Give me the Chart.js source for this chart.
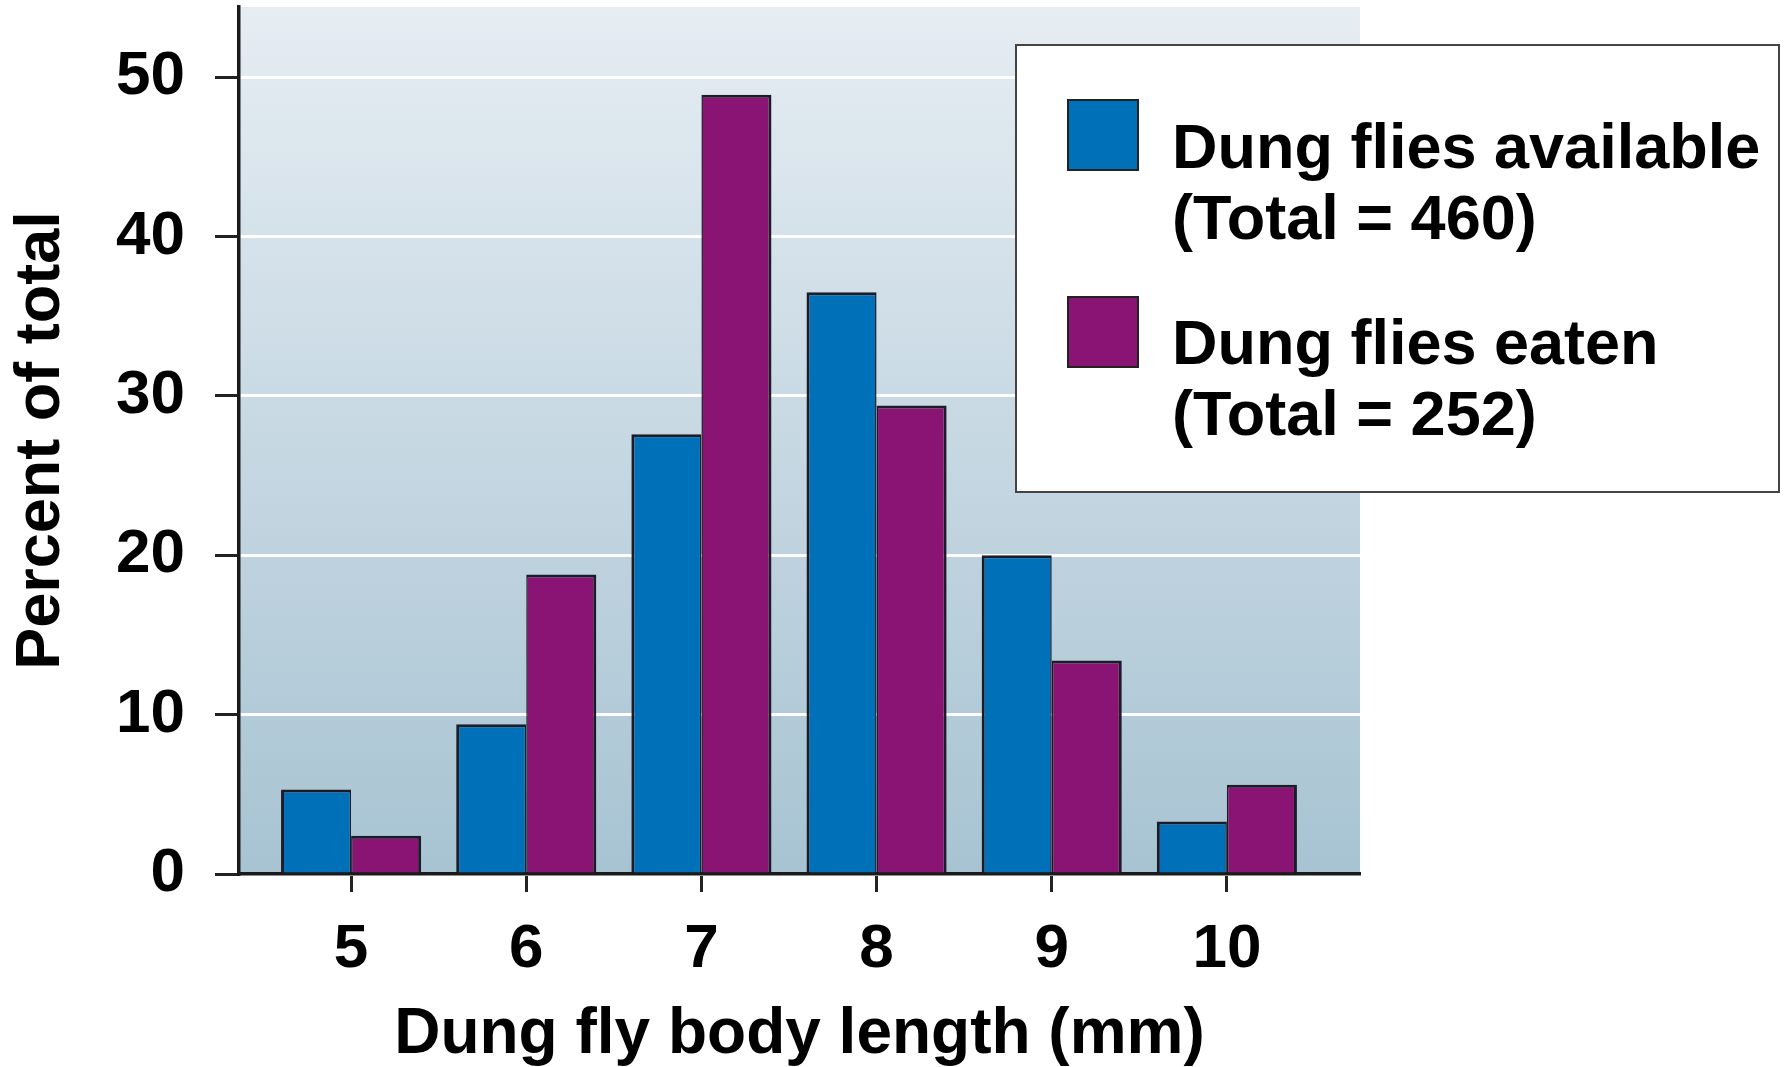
<!DOCTYPE html>
<html>
<head>
<meta charset="utf-8">
<script src="https://cdn.jsdelivr.net/npm/chart.js@4.4.1/dist/chart.umd.min.js"></script>
<style>
  html, body { margin: 0; padding: 0; background: #fff; }
  #wrap { position: relative; width: 1787px; height: 1067px; }
  #chart { position: absolute; left: 0; top: 0; }
  #legend {
    position: absolute; left: 1015px; top: 44px; width: 761px; height: 445px;
    background: #fff; border: 2px solid #444;
    font-family: "Liberation Sans", Arial, sans-serif; font-weight: bold; color: #000;
  }
  .sw { position: absolute; left: 50px; width: 68px; height: 68px; border: 2px solid #222; }
  .lt { position: absolute; left: 155px; font-size: 63px; line-height: 71px; white-space: nowrap; }
</style>
</head>
<body>
<div id="wrap">
  <canvas id="chart" width="1787" height="1067"></canvas>
  <div id="legend"></div>
</div>
<script>
// waarden
const bodyLengths = [5, 6, 7, 8, 9, 10];
const available = [5.3, 9.4, 27.6, 36.5, 20.0, 3.3];
const eaten = [2.4, 18.8, 48.9, 29.4, 13.4, 5.6];

const seriesNames = ['Dung flies available', 'Dung flies eaten'];
const seriesTotals = ['(Total = 460)', '(Total = 252)'];
const seriesColors = ['#0070b8', '#8a1473'];

const yStep = 10;
const yMax = 54.4;
const xMin = 4.36;
const xMax = 10.76;

const font = 'Liberation Sans, Arial, sans-serif';

// achtergrond met verloop in het plotgebied
const bgPlugin = {
    id: 'bg',
    beforeDraw(chart) {
        const a = chart.chartArea;
        const c = chart.ctx;
        const g = c.createLinearGradient(0, a.top, 0, a.bottom);
        g.addColorStop(0, '#e6edf3');
        g.addColorStop(1, '#a7c3d2');
        c.save();
        c.fillStyle = g;
        c.fillRect(a.left, a.top, a.right - a.left, a.bottom - a.top);
        c.restore();
    }
};

const ctx = document.getElementById('chart').getContext('2d');
new Chart(ctx, {
    type: 'bar',
    data: {
        datasets: [{
            label: seriesNames[0],
            data: bodyLengths.map((x, i) => ({ x: x, y: available[i] })),
            backgroundColor: seriesColors[0],
            borderColor: '#1c1c28',
            borderWidth: { left: 3, right: 1.5, top: 3, bottom: 0 }
        }, {
            label: seriesNames[1],
            data: bodyLengths.map((x, i) => ({ x: x, y: eaten[i] })),
            backgroundColor: seriesColors[1],
            borderColor: '#1c1c28',
            borderWidth: { left: 1.5, right: 3, top: 3, bottom: 0 }
        }]
    },
    options: {
        responsive: false,
        animation: false,
        layout: { padding: { left: 0, right: 427, top: 7, bottom: 0 } },
        datasets: {
            bar: { barPercentage: 1.0, categoryPercentage: 0.8 }
        },
        plugins: {
            legend: { display: false },
            tooltip: { enabled: false }
        },
        scales: {
            x: {
                type: 'linear',
                min: xMin,
                max: xMax,
                offset: false,
                afterFit: s => {
                    s.height = 193;
                    s.paddingLeft = 0;
                    s.paddingRight = 0;
                },
                grid: { drawOnChartArea: false, offset: false, tickLength: 18, tickColor: '#222', tickWidth: 3 },
                border: { color: '#1a1a1a', width: 3.5 },
                ticks: {
                    stepSize: 1,
                    includeBounds: false,
                    padding: 21,
                    color: '#000',
                    font: { family: font, size: 62, weight: 'bold' }
                },
                title: {
                    display: true,
                    text: 'Dung fly body length (mm)',
                    color: '#000',
                    font: { family: font, size: 64, weight: 'bold', lineHeight: 1.0 },
                    padding: { top: 0, bottom: 0 }
                }
            },
            y: {
                min: 0,
                max: yMax,
                afterFit: s => {
                    s.width = 239;
                    s.paddingTop = 0;
                    s.paddingBottom = 0;
                },
                grid: { color: '#ffffff', lineWidth: 3, tickLength: 24, tickColor: '#222', tickWidth: 3 },
                border: { color: '#1a1a1a', width: 3.5 },
                ticks: {
                    stepSize: yStep,
                    includeBounds: false,
                    padding: 30,
                    color: '#000',
                    font: { family: font, size: 62, weight: 'bold' }
                },
                title: {
                    display: true,
                    text: 'Percent of total',
                    color: '#000',
                    font: { family: font, size: 63, weight: 'bold' },
                    padding: { top: 4, bottom: 0 }
                }
            }
        }
    },
    plugins: [bgPlugin]
});

// legenda als HTML, met regels op twee niveaus
const legend = document.getElementById('legend');
const swatchTops = [53, 250];
const textTops = [65, 261];
seriesNames.forEach((name, i) => {
    const sw = document.createElement('div');
    sw.className = 'sw';
    sw.style.top = swatchTops[i] + 'px';
    sw.style.background = seriesColors[i];
    legend.appendChild(sw);
    const t = document.createElement('div');
    t.className = 'lt';
    t.style.top = textTops[i] + 'px';
    t.innerHTML = name + '<br>' + seriesTotals[i];
    legend.appendChild(t);
});
</script>
</body>
</html>
